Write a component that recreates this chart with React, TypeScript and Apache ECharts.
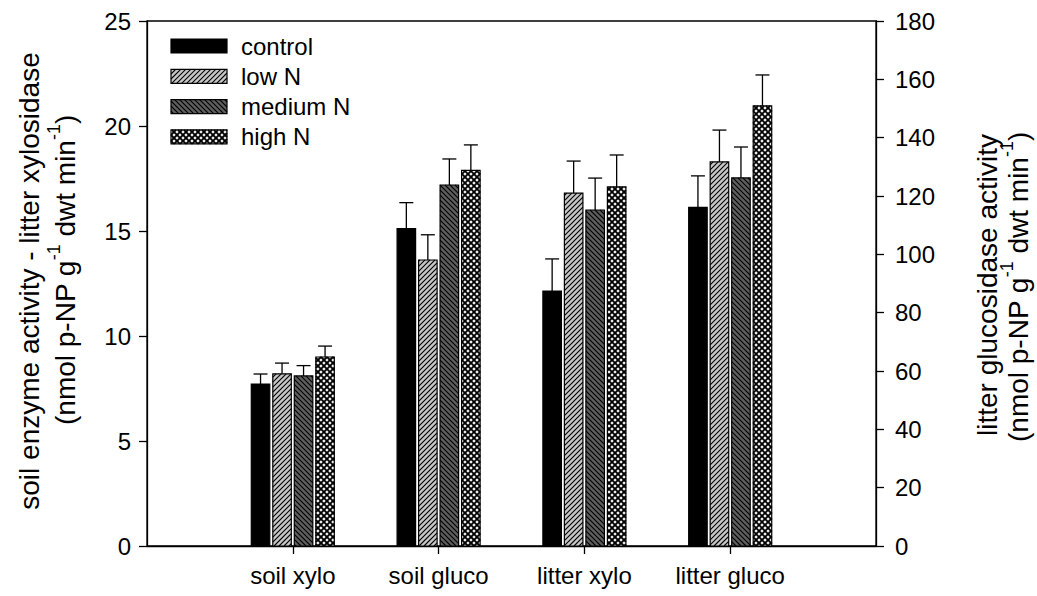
import React, { useEffect, useRef } from 'react';
import * as echarts from 'echarts';

const categories = ['soil xylo', 'soil gluco', 'litter xylo', 'litter gluco'];
const categoryPositions = [1, 2, 3, 4];
const treatments = ['control', 'low N', 'medium N', 'high N'];

// left axis groups: soil xylo, soil gluco, litter xylo
const controlMean = [7.71, 15.11, 12.14];
const controlErr = [0.48, 1.24, 1.53];
const lowNMean = [8.2, 13.62, 16.8];
const lowNErr = [0.51, 1.2, 1.53];
const mediumNMean = [8.1, 17.19, 16.0];
const mediumNErr = [0.49, 1.24, 1.52];
const highNMean = [9.0, 17.89, 17.1];
const highNErr = [0.52, 1.21, 1.52];

// right axis group: litter gluco (control, low N, medium N, high N)
const litterGlucoMean = [116.1, 131.7, 126.2, 150.9];
const litterGlucoErr = [10.8, 10.9, 10.6, 10.6];

const leftTicks = { min: 0, max: 25, interval: 5 };
const rightTicks = { min: 0, max: 180, interval: 20 };

const FONT = '"Liberation Sans", Arial, Helvetica, sans-serif';
const FS = 24;
const TFS = 28;

const PATTERNS = [
  { kind: 'solid', fill: '#000000', step: 0, lw: 0 },
  { kind: 'fwd', fill: '#c6c6c6', step: 5, lw: 1.1 },
  { kind: 'back', fill: '#5e5e5e', step: 5, lw: 1.1 },
  { kind: 'cross', fill: '#f2f2f2', step: 6, lw: 1.8 },
];

function hatch(x0: number, y0: number, w: number, h: number, step: number, dir: string, lw: number) {
  const out: any[] = [];
  const st = { stroke: '#000', lineWidth: lw };
  if (dir === 'fwd') {
    const cMin = x0 + y0;
    const cMax = x0 + w + y0 + h;
    for (let c = Math.ceil(cMin / step) * step; c <= cMax; c += step) {
      const xa = Math.max(x0, c - y0 - h);
      const xb = Math.min(x0 + w, c - y0);
      if (xb - xa > 0.05) out.push({ type: 'line', silent: true, shape: { x1: xa, y1: c - xa, x2: xb, y2: c - xb }, style: st });
    }
  } else {
    const cMin = x0 - (y0 + h);
    const cMax = x0 + w - y0;
    for (let c = Math.ceil(cMin / step) * step; c <= cMax; c += step) {
      const xa = Math.max(x0, c + y0);
      const xb = Math.min(x0 + w, c + y0 + h);
      if (xb - xa > 0.05) out.push({ type: 'line', silent: true, shape: { x1: xa, y1: xa - c, x2: xb, y2: xb - c }, style: st });
    }
  }
  return out;
}

function patternEls(x: number, y: number, w: number, h: number, ti: number) {
  const p = PATTERNS[ti];
  const els: any[] = [{ type: 'rect', shape: { x, y, width: w, height: h }, style: { fill: p.fill } }];
  if (p.kind === 'fwd') els.push(...hatch(x, y, w, h, p.step, 'fwd', p.lw));
  if (p.kind === 'back') els.push(...hatch(x, y, w, h, p.step, 'back', p.lw));
  if (p.kind === 'cross') {
    els.push(...hatch(x, y, w, h, p.step, 'fwd', p.lw));
    els.push(...hatch(x, y, w, h, p.step, 'back', p.lw));
  }
  els.push({ type: 'rect', shape: { x, y, width: w, height: h }, style: { fill: 'none', stroke: '#000', lineWidth: 1.2 } });
  return els;
}

function makeSeries(ti: number, means: number[], errs: number[], positions: number[], yAxisIndex: number) {
  return {
    type: 'custom',
    name: treatments[ti],
    xAxisIndex: 0,
    yAxisIndex,
    clip: false,
    data: means.map((m, i) => [positions[i], m, errs[i]]),
    encode: { x: 0, y: 1 },
    renderItem: (params: any, api: any) => {
      const xv = api.value(0);
      const v = api.value(1);
      const e = api.value(2);
      const band = api.size([1, 0])[0];
      const top = api.coord([xv, v]);
      const base = api.coord([xv, 0]);
      const errPt = api.coord([xv, v + e]);
      const bw = band * 0.127;
      const pitch = band * 0.1475;
      const left = top[0] - (3 * pitch + bw) / 2 + ti * pitch;
      const mid = left + bw / 2;
      const cap = band * 0.048;
      const children = [
        { type: 'line', shape: { x1: mid, y1: top[1], x2: mid, y2: errPt[1] }, style: { stroke: '#000', lineWidth: 1.3 } },
        { type: 'line', shape: { x1: mid - cap, y1: errPt[1], x2: mid + cap, y2: errPt[1] }, style: { stroke: '#000', lineWidth: 1.3 } },
        ...patternEls(left, top[1], bw, base[1] - top[1], ti),
      ];
      return { type: 'group', children };
    },
  };
}

function legendGraphics() {
  const els: any[] = [];
  treatments.forEach((t, i) => {
    const y = 39 + i * 30.3;
    els.push({ type: 'group', children: patternEls(171, y, 56, 14, i) });
    els.push({
      type: 'text',
      x: 241,
      y: y + 7,
      style: { text: t, fontSize: FS, fontFamily: FONT, fill: '#000', verticalAlign: 'middle', align: 'left' },
    });
  });
  return els;
}

function titleText(text: string, x: number, y: number) {
  return {
    type: 'text',
    x,
    y,
    rotation: Math.PI / 2,
    style: {
      text,
      fontSize: TFS,
      fontFamily: FONT,
      fill: '#000',
      align: 'center',
      verticalAlign: 'middle',
      rich: {
        n: { fontSize: TFS, fontFamily: FONT, fill: '#000', lineHeight: 34, verticalAlign: 'bottom' },
        s: { fontSize: 18, fontFamily: FONT, fill: '#000', lineHeight: 34, verticalAlign: 'top' },
      },
    },
  };
}

export default function App() {
  const ref = useRef<HTMLDivElement>(null);
  useEffect(() => {
    if (!ref.current) return;
    const chart = echarts.init(ref.current, undefined, { renderer: 'svg' });
    const lineStyle = { color: '#000', width: 1.3 };
    const series: any[] = [
      makeSeries(0, controlMean, controlErr, categoryPositions.slice(0, 3), 0),
      makeSeries(1, lowNMean, lowNErr, categoryPositions.slice(0, 3), 0),
      makeSeries(2, mediumNMean, mediumNErr, categoryPositions.slice(0, 3), 0),
      makeSeries(3, highNMean, highNErr, categoryPositions.slice(0, 3), 0),
    ];
    treatments.forEach((_, ti) => {
      series.push(makeSeries(ti, [litterGlucoMean[ti]], [litterGlucoErr[ti]], [categoryPositions[3]], 1));
    });
    chart.setOption({
      animation: false,
      backgroundColor: '#fff',
      grid: { left: 147, top: 21, right: 161, bottom: 50, show: true, borderColor: '#000', borderWidth: 1.3 },
      xAxis: {
        type: 'value',
        min: 0,
        max: 5,
        interval: 1,
        splitLine: { show: false },
        axisLine: { show: true, lineStyle },
        axisTick: { show: true, length: 8, lineStyle, customValues: categoryPositions },
        axisLabel: {
          customValues: categoryPositions,
          formatter: (v: number) => categories[Math.round(v) - 1] || '',
          color: '#000',
          fontSize: FS,
          fontFamily: FONT,
          margin: 17,
        },
      },
      yAxis: [
        {
          type: 'value',
          position: 'left',
          ...leftTicks,
          splitLine: { show: false },
          axisLine: { show: true, lineStyle },
          axisTick: { show: true, length: 8, lineStyle },
          axisLabel: { color: '#000', fontSize: FS, fontFamily: FONT, margin: 16 },
        },
        {
          type: 'value',
          position: 'right',
          ...rightTicks,
          splitLine: { show: false },
          axisLine: { show: true, lineStyle },
          axisTick: { show: true, length: 8, lineStyle },
          axisLabel: { color: '#000', fontSize: FS, fontFamily: FONT, margin: 19 },
        },
      ],
      series,
      graphic: [
        ...legendGraphics(),
        titleText('{n|soil enzyme activity - litter xylosidase}', 26, 281),
        titleText('{n|(nmol p-NP g}{s|-1}{n| dwt min}{s|-1}{n|)}', 62, 270),
        titleText('{n|litter glucosidase activity}', 984, 285),
        titleText('{n|(nmol p-NP g}{s|-1}{n| dwt min}{s|-1}{n|)}', 1015, 287),
      ],
    });
    return () => chart.dispose();
  }, []);
  return <div ref={ref} style={{ position: 'absolute', left: 0, top: 0, width: 1037, height: 596 }} />;
}
